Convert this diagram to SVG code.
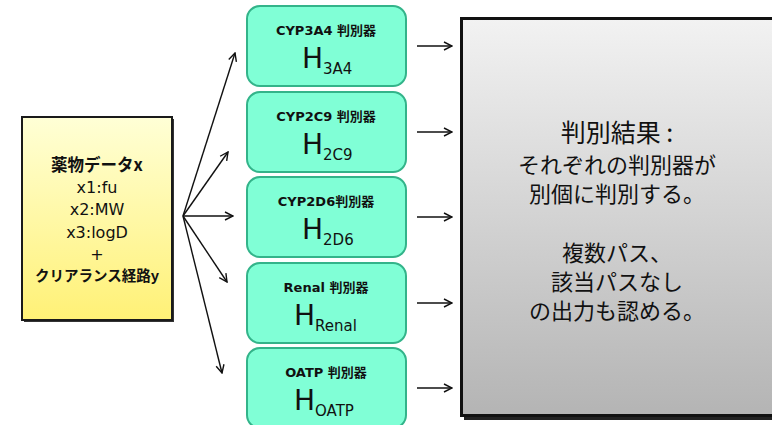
<svg xmlns="http://www.w3.org/2000/svg" width="772" height="425" viewBox="0 0 772 425">
<defs>
<linearGradient id="gy" x1="0" y1="0" x2="0" y2="1">
<stop offset="0" stop-color="#ffffd6"/>
<stop offset="1" stop-color="#fff176"/>
</linearGradient>
<linearGradient id="gg" x1="0" y1="0" x2="0" y2="1">
<stop offset="0" stop-color="#f2f2f2"/>
<stop offset="1" stop-color="#b4b4b4"/>
</linearGradient>
<marker id="ah" viewBox="0 0 10 10" refX="9" refY="5" markerWidth="10" markerHeight="10" markerUnits="userSpaceOnUse" orient="auto">
<path d="M1,1 L9,5 L1,9" fill="none" stroke="#111" stroke-width="1.4"/>
</marker>
</defs>
<style>
.jp{font-family:"Noto Sans CJK JP","DejaVu Sans",sans-serif;fill:#111;text-anchor:middle}
.t{font-family:"DejaVu Sans","Noto Sans CJK JP",sans-serif;font-weight:bold;font-size:13px;fill:#111;text-anchor:middle}
.h{font-family:"DejaVu Sans",sans-serif;fill:#111}
.hb{font-size:28px}
.hs{font-size:15px}
.clf{fill:#80ffd6;stroke:#33b48a;stroke-width:2}
.ln{stroke:#111;stroke-width:1.4;fill:none;marker-end:url(#ah)}
.yt{font-family:"DejaVu Sans","Noto Sans CJK JP",sans-serif;font-size:16px;fill:#111;text-anchor:middle}
.rt{font-size:22px}
</style>
<rect width="772" height="425" fill="#fff"/>

<g id="input">
<rect x="24" y="119" width="150" height="203" fill="#333"/>
<rect x="22" y="117" width="150" height="203" fill="url(#gy)" stroke="#1a1a1a" stroke-width="2"/>
<text class="jp" x="97" y="171" font-size="16.5" font-weight="bold">薬物データx</text>
<text class="yt" x="97" y="193">x1:fu</text>
<text class="yt" x="97" y="215">x2:MW</text>
<text class="yt" x="97" y="238">x3:logD</text>
<text class="yt" x="97" y="260" font-size="21">+</text>
<text class="jp" x="97" y="281" font-size="14.5" font-weight="bold">クリアランス経路y</text>
</g>

<g id="cyp3a4">
<rect class="clf" x="247" y="6" width="159" height="80" rx="13"/>
<text class="t" x="326" y="35">CYP3A4 判別器</text>
<text class="h" x="302" y="68"><tspan class="hb">H</tspan><tspan class="hs" dy="6">3A4</tspan></text>
</g>
<g id="cyp2c9">
<rect class="clf" x="247" y="92" width="159" height="80" rx="13"/>
<text class="t" x="326" y="121">CYP2C9 判別器</text>
<text class="h" x="302" y="154"><tspan class="hb">H</tspan><tspan class="hs" dy="6">2C9</tspan></text>
</g>
<g id="cyp2d6">
<rect class="clf" x="247" y="177" width="159" height="80" rx="13"/>
<text class="t" x="326" y="206">CYP2D6判別器</text>
<text class="h" x="302" y="239"><tspan class="hb">H</tspan><tspan class="hs" dy="6">2D6</tspan></text>
</g>
<g id="renal">
<rect class="clf" x="247" y="263" width="159" height="80" rx="13"/>
<text class="t" x="326" y="292">Renal 判別器</text>
<text class="h" x="294" y="325"><tspan class="hb">H</tspan><tspan class="hs" dy="6">Renal</tspan></text>
</g>
<g id="oatp">
<rect class="clf" x="247" y="348" width="159" height="80" rx="13"/>
<text class="t" x="326" y="377">OATP 判別器</text>
<text class="h" x="294" y="410"><tspan class="hb">H</tspan><tspan class="hs" dy="6">OATP</tspan></text>
</g>

<g id="result">
<rect x="464" y="21" width="312" height="399" fill="#222"/>
<rect x="461.5" y="18.5" width="312" height="397" fill="url(#gg)" stroke="#111" stroke-width="3"/>
<text class="jp" x="617" y="142" font-size="25">判別結果 :</text>
<text class="jp rt" x="617" y="173">それぞれの判別器が</text>
<text class="jp rt" x="617" y="202">別個に判別する。</text>
<text class="jp rt" x="617" y="261">複数パス、</text>
<text class="jp rt" x="617" y="290">該当パスなし</text>
<text class="jp rt" x="617" y="319">の出力も認める。</text>
</g>

<g id="connectors">
<line class="ln" x1="183" y1="216" x2="235" y2="53"/>
<line class="ln" x1="183" y1="216" x2="228" y2="152"/>
<line class="ln" x1="183" y1="216" x2="233" y2="216"/>
<line class="ln" x1="183" y1="216" x2="227" y2="282"/>
<line class="ln" x1="183" y1="216" x2="222" y2="373"/>
<line class="ln" x1="417" y1="46" x2="452" y2="46"/>
<line class="ln" x1="417" y1="132" x2="452" y2="132"/>
<line class="ln" x1="417" y1="217" x2="452" y2="217"/>
<line class="ln" x1="417" y1="303" x2="452" y2="303"/>
<line class="ln" x1="417" y1="388" x2="452" y2="388"/>
</g>
</svg>
